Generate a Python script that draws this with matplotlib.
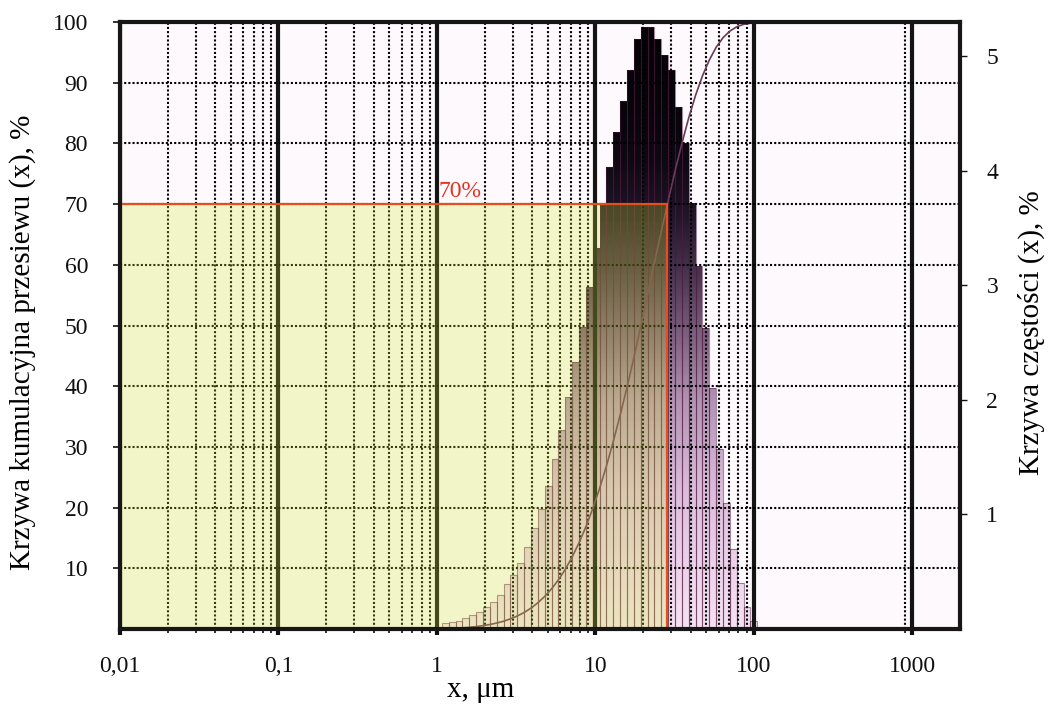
import numpy as np
import matplotlib
matplotlib.use("Agg")
import matplotlib.pyplot as plt
from matplotlib.colors import LinearSegmentedColormap
from matplotlib.path import Path
from matplotlib.patches import PathPatch, Rectangle
from matplotlib.ticker import FixedLocator, FixedFormatter, NullFormatter

# ---------------- data ----------------
bin_edges_um = [1.074, 1.187, 1.311, 1.448, 1.600, 1.768, 1.953, 2.158, 2.384, 2.634,
                2.910, 3.215, 3.552, 3.924, 4.335, 4.789, 5.291, 5.846, 6.458, 7.135,
                7.883, 8.709, 9.622, 10.63, 11.74, 12.97, 14.33, 15.84, 17.50, 19.33,
                21.36, 23.59, 26.07, 28.80, 31.82, 35.15, 38.83, 42.90, 47.40, 52.37,
                57.86, 63.92, 70.62, 78.02, 86.19, 95.23, 105.2]
freq_pct = [0.05, 0.058, 0.072, 0.10, 0.12, 0.15, 0.19, 0.24, 0.30, 0.39,
            0.47, 0.58, 0.72, 0.88, 1.05, 1.245, 1.48, 1.74, 2.03, 2.33,
            2.64, 2.99, 3.33, 3.70, 4.03, 4.34, 4.61, 4.88, 5.15, 5.26,
            5.26, 5.15, 5.01, 4.88, 4.56, 4.24, 3.72, 3.17, 2.63, 2.10,
            1.57, 1.10, 0.70, 0.40, 0.19, 0.07]

x_major_ticks = [0.01, 0.1, 1, 10, 100, 1000]
x_major_labels = ["0,01", "0,1", "1", "10", "100", "1000"]
x_minor_ticks = [m * d for d in (0.01, 0.1, 1, 10) for m in range(2, 10)] + [900]
left_ticks = [10, 20, 30, 40, 50, 60, 70, 80, 90, 100]
left_labels = ["10", "20", "30", "40", "50", "60", "70", "80", "90", "100"]
right_ticks = [1, 2, 3, 4, 5]
right_labels = ["1", "2", "3", "4", "5"]

x_limits = (0.01, 2000)
left_limits = (0, 100)
right_limits = (0, 5.3)

level_pct = 70          # marked level of the cumulative curve
d_level_um = 28.2       # particle size at that level

# gradient of the histogram fill (value on right axis -> colour)
grad_stops = [(0.0, "#f6e2f2"), (0.6, "#ecd0ea"), (1.2, "#dcbcdc"), (2.0, "#b292b2"),
              (2.6, "#7a5c7c"), (3.1, "#4a3450"), (3.6, "#22152a"), (4.1, "#0e0812"),
              (4.6, "#07040a"), (5.3, "#050207")]

# ---------------- figure ----------------
plt.rcParams["font.family"] = ["Liberation Serif", "DejaVu Serif"]

fig = plt.figure(figsize=(10.49, 7.11), dpi=100)
fig.patch.set_facecolor("white")
ax = fig.add_axes([120 / 1049, 1 - 629 / 711, 840 / 1049, 607 / 711])
ax.set_xscale("log")
ax2 = ax.twinx()
ax.set_zorder(ax2.get_zorder() + 1)
ax.patch.set_visible(False)
ax2.patch.set_visible(True)
ax2.patch.set_facecolor("#fdf9fc")

# ---- histogram with vertical gradient (right axis) ----
edges = np.array(bin_edges_um)
bars = ax2.bar(edges[:-1], freq_pct, width=np.diff(edges), align="edge",
               facecolor="none", edgecolor=(0.30, 0.10, 0.24, 0.5),
               linewidth=0.8, zorder=2)
cmap = LinearSegmentedColormap.from_list(
    "histgrad", [(v / right_limits[1], c) for v, c in grad_stops])
grad = np.linspace(0, 1, 600).reshape(-1, 1)
im = ax2.imshow(grad, extent=[x_limits[0], x_limits[1], right_limits[0], right_limits[1]],
                origin="lower", aspect="auto", cmap=cmap, interpolation="bilinear",
                zorder=1)
clip = Path.make_compound_path(*[b.get_path().transformed(b.get_patch_transform())
                                 for b in bars])
im.set_clip_path(PathPatch(clip, transform=ax2.transData))

ax2.set_ylim(*right_limits)
ax2.yaxis.set_major_locator(FixedLocator(right_ticks))
ax2.yaxis.set_major_formatter(FixedFormatter(right_labels))
ax2.tick_params(axis="y", direction="out", length=5, width=1.0, labelsize=17,
                pad=14, colors="#111111")
for s in ax2.spines.values():
    s.set_visible(False)
ax2.set_ylabel("Krzywa częstości (x), %", fontsize=21)
ax2.yaxis.set_label_coords((1031 - 120) / 840, (629 - 333) / 607)
ax2.yaxis.label.set_verticalalignment("center")

# ---- cumulative curve (left axis) ----
cum = np.concatenate([[0.0], np.cumsum(freq_pct)])
ax.plot(edges, cum, color="#6a3a58", lw=1.2, zorder=2)

# ---- 70 % marker area ----
ax.add_patch(Rectangle((x_limits[0], 0), d_level_um - x_limits[0], level_pct,
                       facecolor="#d5ed2c", alpha=0.25, edgecolor="none", zorder=3))
ax.plot([x_limits[0], d_level_um, d_level_um], [level_pct, level_pct, 0],
        color="#e2501e", lw=1.6, zorder=4, solid_joinstyle="miter")
ax.text(1.02, level_pct + 1.2, f"{level_pct}%", color="#e2321e", fontsize=17,
        va="baseline", ha="left", zorder=5)

# ---- axes, grid, ticks ----
ax.set_xlim(*x_limits)
ax.set_ylim(*left_limits)
ax.xaxis.set_major_locator(FixedLocator(x_major_ticks))
ax.xaxis.set_major_formatter(FixedFormatter(x_major_labels))
ax.xaxis.set_minor_locator(FixedLocator(x_minor_ticks))
ax.xaxis.set_minor_formatter(NullFormatter())
ax.yaxis.set_major_locator(FixedLocator(left_ticks))
ax.yaxis.set_major_formatter(FixedFormatter(left_labels))

ax.set_axisbelow(True)
ax.grid(True, which="major", axis="x", color="#141414", linestyle="-", linewidth=3)
ax.grid(True, which="minor", axis="x", color="black", linestyle=(0, (1, 1)), linewidth=1.5)
ax.grid(True, which="major", axis="y", color="black", linestyle=(0, (1, 1)), linewidth=1.5)

ax.tick_params(axis="x", which="major", direction="out", length=4, width=3,
               labelsize=17, pad=15.5, colors="#111111")
ax.tick_params(axis="x", which="minor", direction="out", length=3, width=1.2,
               colors="#111111")
ax.tick_params(axis="y", direction="out", length=5, width=1.2, labelsize=17,
               pad=18, colors="#111111")

for s in ax.spines.values():
    s.set_linewidth(3)
    s.set_color("#161616")
    s.set_zorder(10)

ax.set_xlabel("x, μm", fontsize=21)
ax.xaxis.set_label_coords((481 - 120) / 840, (629 - 677) / 607)
ax.set_ylabel("Krzywa kumulacyjna przesiewu (x), %", fontsize=21)
ax.yaxis.set_label_coords((23 - 120) / 840, (629 - 342) / 607)
ax.yaxis.label.set_verticalalignment("center")

fig.savefig("out.png", dpi=100)
